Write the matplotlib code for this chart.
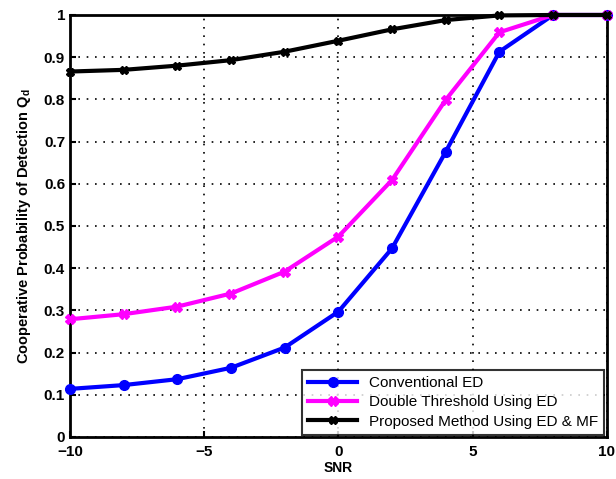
import numpy as np
import matplotlib
matplotlib.use("Agg")
import matplotlib.pyplot as plt

plt.rcParams['font.family'] = ['Liberation Sans', 'DejaVu Sans']

# Data
snr = [-10, -8, -6, -4, -2, 0, 2, 4, 6, 8, 10]
conventional = [0.114, 0.123, 0.137, 0.164, 0.212, 0.297, 0.447, 0.676, 0.913, 1.0, 1.0]
double_thr = [0.279, 0.291, 0.309, 0.340, 0.392, 0.475, 0.609, 0.799, 0.959, 1.0, 1.0]
proposed = [0.866, 0.870, 0.880, 0.893, 0.913, 0.939, 0.966, 0.988, 0.999, 1.0, 1.0]

fig = plt.figure(figsize=(6.16, 4.79), dpi=100)
ax = fig.add_axes([0.1136, 0.0877, 0.8714, 0.881])

ax.plot(snr, conventional, color="#0000ff", lw=3, marker="o", ms=7,
        label="Conventional ED", zorder=3, clip_on=False)
ax.plot(snr, double_thr, color="#ff00ff", lw=3, marker="X", ms=7,
        label="Double Threshold Using ED", zorder=3, clip_on=False)
ax.plot(snr, proposed, color="black", lw=3, marker="X", ms=6,
        label="Proposed Method Using ED & MF", zorder=4, clip_on=False)

ax.set_xlim(-10, 10)
ax.set_ylim(0, 1)
ax.set_xticks([-10, -5, 0, 5, 10])
ax.set_yticks(np.arange(0, 1.01, 0.1))
ax.set_yticklabels(["0", "0.1", "0.2", "0.3", "0.4", "0.5", "0.6", "0.7", "0.8", "0.9", "1"])
ax.tick_params(direction="in", labelsize=11, width=1.5, length=4)
ax.tick_params(axis="x", pad=6)
for lbl in ax.get_xticklabels() + ax.get_yticklabels():
    lbl.set_fontweight("bold")
for sp in ax.spines.values():
    sp.set_linewidth(2)

ax.grid(True, color="black", linestyle=(0, (1, 4)), linewidth=1.2)

ax.set_xlabel("SNR", fontsize=10, fontweight="bold", labelpad=1)
ax.set_ylabel("Cooperative Probability of Detection Q$_\\mathregular{d}$", fontsize=10.5,
              fontweight="bold", labelpad=8)

leg = ax.legend(loc="lower right", fontsize=11, frameon=True, fancybox=False,
                edgecolor="black", borderaxespad=0.15, handlelength=3.2,
                labelspacing=0.35)
leg.get_frame().set_linewidth(1.5)

fig.savefig("out.png", dpi=100)
